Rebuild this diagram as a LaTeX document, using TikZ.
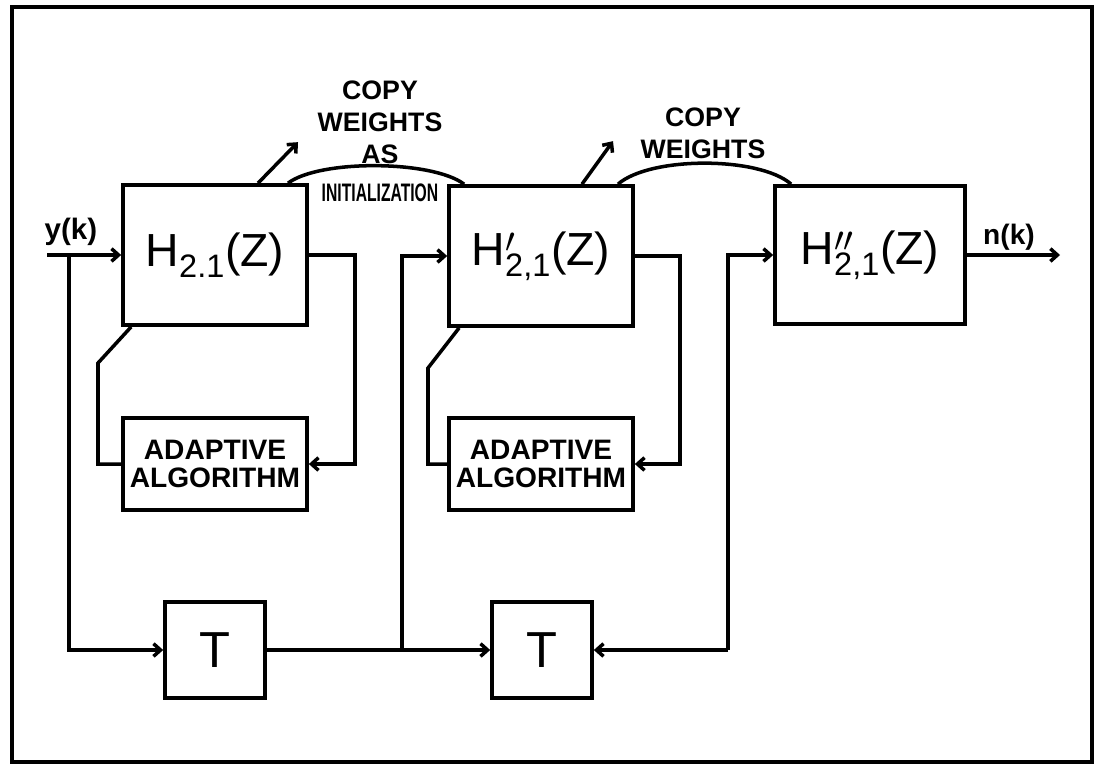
\documentclass[tikz,border=0pt]{standalone}
\usepackage{fontspec}
\setmainfont{Liberation Sans}
\usepackage{tikz}
\usetikzlibrary{arrows.meta,calc,positioning}

\begin{document}
\begin{tikzpicture}[
        x=0.025cm,
        y=-0.025cm,
        wire/.style={line width=2.5pt},
        block/.style={draw, line width=2.6pt, inner sep=0pt, align=center},
        hblock/.style={block, minimum width=4.6cm, minimum height=3.5cm, font=\fontsize{33}{36}\selectfont},
        adblock/.style={block, minimum width=4.6cm, minimum height=2.3cm, font=\bfseries\fontsize{20}{20.5}\selectfont},
        tblock/.style={block, minimum width=2.5cm, minimum height=2.4cm, font=\fontsize{36}{40}\selectfont},
        lbl/.style={font=\bfseries\fontsize{19}{22.8}\selectfont, align=center},
        >={Straight Barb[length=5pt,width=9pt]}
    ]
        \useasboundingbox (0,0) rectangle (1096,765);
        \draw[line width=2.4pt] (12,7) rectangle (1092,762);

        % filter stages
        \node[hblock] (h1) at (215,255) {H\textsubscript{2.1}(Z)};
        \node[hblock] (h2) at (541,256) {H\rlap{\textsuperscript{$\prime$}}\textsubscript{2,1}(Z)};
        \node[hblock, minimum width=4.75cm, minimum height=3.45cm] (h3) at (870,255) {H\rlap{\textsuperscript{$\prime\prime$}}\textsubscript{2,1}(Z)};

        \node[adblock] (a1) at (215,464) {ADAPTIVE\\ALGORITHM};
        \node[adblock] (a2) at (541,464) {ADAPTIVE\\ALGORITHM};

        \node[tblock] (t1) at (215,650) {T};
        \node[tblock] (t2) at (542,650) {T};

        \coordinate (in) at (47,255);
        \coordinate (j1) at (69,255);
        \coordinate (r1) at (355,255);
        \coordinate (k1) at (98,363);
        \coordinate (j2) at (402,650);
        \coordinate (r2) at (680,256);
        \coordinate (k2) at (428,368);
        \coordinate (j3) at (728,650);
        \coordinate (out) at (1060,255);

        \draw[->, wire] (in) -- (h1.west);
        \draw[->, wire] (j1) |- (t1.west);
        \draw[->, wire] (h1.east) -- (r1) |- (a1.east);
        \draw[wire] ($(h1.south west)+(10,0)$) -- (k1) |- (a1.west);

        \draw[->, wire] (t1.east) -- (t2.west);
        \draw[->, wire] (j2) |- (h2.west);
        \draw[->, wire] (h2.east) -- (r2) |- (a2.east);
        \draw[wire] ($(h2.south west)+(12,0)$) -- (k2) |- (a2.west);

        \draw[->, wire] (j3) -- (t2.east);
        \draw[->, wire] (j3) |- (h3.west);
        \draw[->, wire] (h3.east) -- (out);

        % weight copies
        \draw[->, wire] ($(h1.north)+(43,0)$) -- ++(40,-41);
        \draw[wire] ($(h1.north)+(73,0)$) .. controls +(32,-24) and +(-32,-24) .. ($(h2.north west)+(17,0)$);
        \draw[->, wire] ($(h2.north)+(41,0)$) -- ++(31,-43);
        \draw[wire] ($(h2.north)+(77,0)$) .. controls +(32,-28) and +(-32,-28) .. ($(h3.north west)+(18,0)$);

        \node[lbl] (copy1) at (380,122) {COPY\\WEIGHTS\\AS};
        \node[lbl, font=\bfseries\fontsize{18}{20}\selectfont] (init) at (380,193) {\scalebox{0.62}[1]{INITIALIZATION}};
        \node[lbl] (copy2) at (703,133) {COPY\\WEIGHTS};
        \node[lbl, font=\bfseries\fontsize{21}{24}\selectfont] (yk) at (71,232) {y(k)};
        \node[lbl, font=\bfseries\fontsize{20}{24}\selectfont] (nk) at (1009,237) {n(k)};
    \end{tikzpicture}
\end{document}
